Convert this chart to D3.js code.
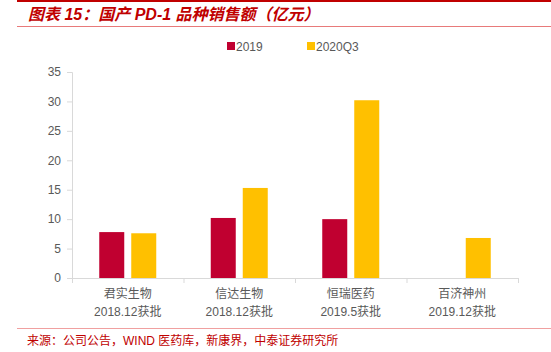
<!DOCTYPE html>
<html>
<head>
<meta charset="utf-8">
<script src="https://cdn.jsdelivr.net/npm/d3@7"></script>
<style>
  body { margin: 0; background: #fff; }
  svg text { font-family: "Liberation Sans", Arial, "Noto Sans CJK SC", sans-serif; }
</style>
</head>
<body>
<div id="chart"></div>
<script>
// data
const companies = ["君实生物", "信达生物", "恒瑞医药", "百济神州"];
const approvals = ["2018.12获批", "2018.12获批", "2019.5获批", "2019.12获批"];
const seriesNames = ["2019", "2020Q3"];
const sales2019 = [7.8, 10.2, 10.0, null];
const sales2020Q3 = [7.6, 15.3, 30.2, 6.8];
const yTicks = [0, 5, 10, 15, 20, 25, 30, 35];

const colors = ["#C00030", "#FFC000"];
const W = 551, H = 352;
const margin = {top: 72, right: 33, bottom: 74, left: 72};
const width = W - margin.left - margin.right,
      height = H - margin.top - margin.bottom;

const svg = d3.select("#chart").append("svg")
  .attr("width", W)
  .attr("height", H);

// header / footer decoration
svg.append("line").attr("x1", 17).attr("x2", W).attr("y1", 1).attr("y2", 1)
  .attr("stroke", "#c00000").attr("stroke-width", 2);
svg.append("line").attr("x1", 17).attr("x2", W).attr("y1", 26.5).attr("y2", 26.5)
  .attr("stroke", "#e87a7a").attr("stroke-width", 1);
svg.append("text")
  .attr("x", 28).attr("y", 20)
  .attr("fill", "#c00000")
  .attr("font-size", 16).attr("font-weight", "bold").attr("font-style", "italic")
  .text("图表 15：国产 PD-1 品种销售额（亿元）");

svg.append("line").attr("x1", 17).attr("x2", W).attr("y1", 328.5).attr("y2", 328.5)
  .attr("stroke", "#f0a0a0").attr("stroke-width", 1);
svg.append("text")
  .attr("x", 27).attr("y", 345)
  .attr("fill", "#c00000")
  .attr("font-size", 12)
  .text("来源：公司公告，WIND 医药库，新康界，中泰证券研究所");

const g = svg.append("g").attr("transform", `translate(${margin.left},${margin.top})`);

const x = d3.scaleBand().domain(companies).range([0, width]);
const y = d3.scaleLinear().domain([0, 35]).range([height, 0]);

// y axis
const yAxis = g.append("g")
  .call(d3.axisLeft(y).tickValues(yTicks).tickSize(5).tickPadding(6));
yAxis.select(".domain").attr("stroke", "#d9d9d9");
yAxis.selectAll(".tick line").attr("stroke", "#d9d9d9");
yAxis.selectAll(".tick text").attr("fill", "#595959").attr("font-size", 12)
  .style("font-family", "'Liberation Sans', Arial, sans-serif");

// x axis: ticks at band edges
const xAxis = g.append("g").attr("transform", `translate(0,${height})`);
xAxis.append("line").attr("x1", 0).attr("x2", width).attr("y1", 0.5).attr("y2", 0.5)
  .attr("stroke", "#d9d9d9");
const edges = companies.map(c => x(c)).concat([width]);
xAxis.selectAll(".edge").data(edges).join("line")
  .attr("x1", d => d + 0.5).attr("x2", d => d + 0.5)
  .attr("y1", 0).attr("y2", 5)
  .attr("stroke", "#d9d9d9");

const labels = xAxis.selectAll(".lab").data(companies).join("text")
  .attr("x", d => x(d) + x.bandwidth() / 2)
  .attr("text-anchor", "middle")
  .attr("fill", "#595959")
  .attr("font-size", 12);
labels.append("tspan").attr("x", d => x(d) + x.bandwidth() / 2).attr("y", 20)
  .text(d => d);
labels.append("tspan").attr("x", d => x(d) + x.bandwidth() / 2).attr("y", 38)
  .text((d, i) => approvals[i]);

// bars
const barW = 25, gap = 7;
const x1 = d3.scaleOrdinal().domain(seriesNames)
  .range([-(gap / 2 + barW), gap / 2]);
const series = [sales2019, sales2020Q3];
series.forEach((vals, si) => {
  g.append("g").selectAll("rect")
    .data(companies.map((c, i) => ({c, v: vals[i]})).filter(d => d.v != null))
    .join("rect")
    .attr("x", d => x(d.c) + x.bandwidth() / 2 + x1(seriesNames[si]))
    .attr("y", d => y(d.v))
    .attr("width", barW)
    .attr("height", d => height - y(d.v))
    .attr("fill", colors[si]);
});

// legend
const legendX = [227, 307];
const legend = svg.append("g").selectAll("g").data(seriesNames).join("g")
  .attr("transform", (d, i) => `translate(${legendX[i]},42)`);
legend.append("rect").attr("width", 8).attr("height", 8)
  .attr("fill", (d, i) => colors[i]);
legend.append("text").attr("x", 9).attr("y", 8.5)
  .attr("fill", "#595959").attr("font-size", 12)
  .text(d => d);
</script>
</body>
</html>
